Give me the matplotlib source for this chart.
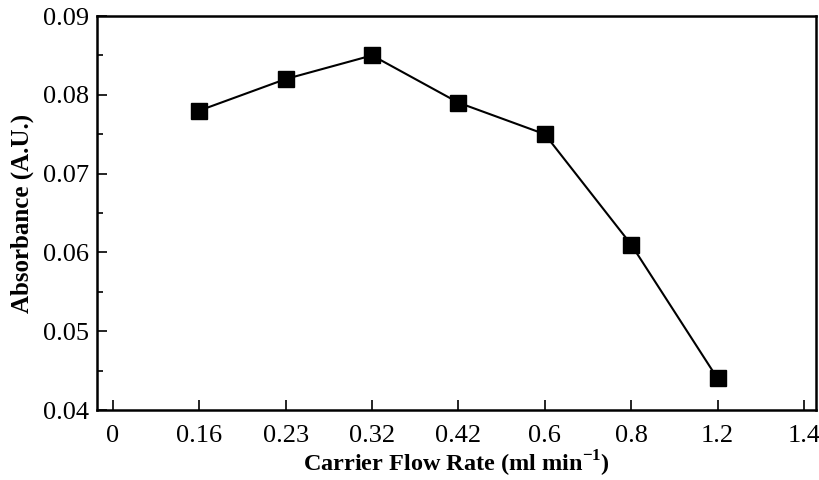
import matplotlib
matplotlib.use("Agg")
import matplotlib.pyplot as plt
from matplotlib.ticker import MultipleLocator

# category axis: ticks evenly spaced, labels are flow rates
tick_labels = ["0", "0.16", "0.23", "0.32", "0.42", "0.6", "0.8", "1.2", "1.4"]
flow_labels = ["0.16", "0.23", "0.32", "0.42", "0.6", "0.8", "1.2"]
absorbance = [0.078, 0.082, 0.085, 0.079, 0.075, 0.061, 0.044]

plt.rcParams["font.family"] = ["Liberation Serif", "DejaVu Serif"]
plt.rcParams["mathtext.fontset"] = "custom"
plt.rcParams["mathtext.rm"] = "Liberation Serif"
plt.rcParams["mathtext.bf"] = "Liberation Serif:bold"

fig = plt.figure(figsize=(8.2, 4.8), dpi=100)
ax = fig.add_axes([97 / 820, 70 / 480, 719 / 820, 394 / 480])

pos = [tick_labels.index(l) for l in flow_labels]
ax.plot(pos, absorbance, color="black", linewidth=1.5,
        marker="s", markersize=11, markerfacecolor="black")

ax.set_xticks(range(len(tick_labels)))
ax.set_xticklabels(tick_labels)
ax.set_xlim(-0.185, 8.14)
ax.set_ylim(0.04, 0.09)
ax.yaxis.set_major_locator(MultipleLocator(0.01))
ax.yaxis.set_minor_locator(MultipleLocator(0.005))
ax.yaxis.set_major_formatter(plt.FuncFormatter(lambda v, p: f"{v:.2f}"))

ax.tick_params(axis="both", which="both", direction="in", labelsize=19,
               top=False, right=False, width=1.2)
ax.tick_params(axis="x", which="major", length=7, pad=11)
ax.tick_params(axis="y", which="major", length=7, pad=6)
ax.tick_params(axis="y", which="minor", length=4)
for s in ax.spines.values():
    s.set_linewidth(1.8)

ax.set_xlabel("Carrier Flow Rate (ml min$^{\\mathbf{-1}}$)", fontsize=17.5,
              fontweight="bold", labelpad=1)
ax.set_ylabel("Absorbance (A.U.)", fontsize=18, fontweight="bold", labelpad=6)

fig.savefig("out.png", dpi=100)
